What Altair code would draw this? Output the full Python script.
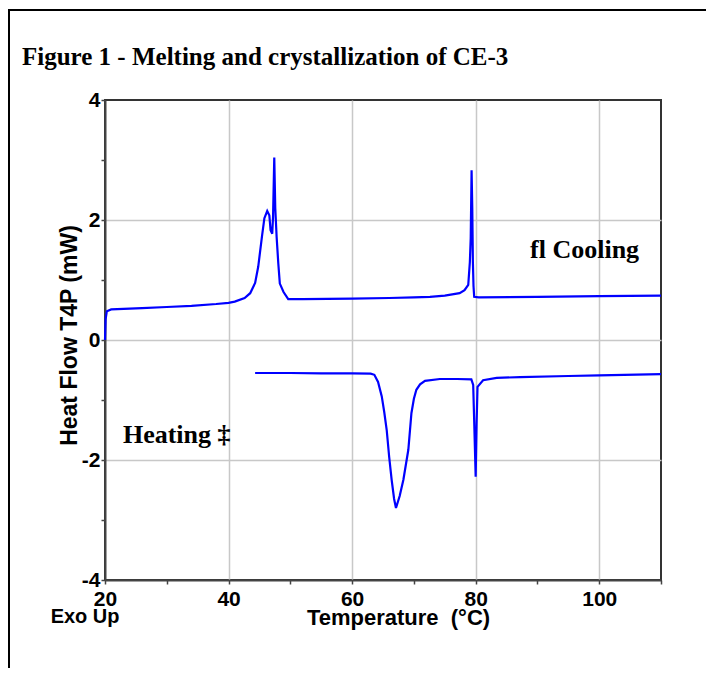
import altair as alt
import pandas as pd

# ---- data ----
cool_T = [20.0, 20.1, 20.3, 21.0, 23.0, 26.0, 30.0, 34.0, 38.0, 40.0, 41.0, 42.6, 43.5, 44.3,
          44.8, 45.4, 45.8, 46.26, 46.6, 46.8, 47.07, 47.2, 47.4, 47.56, 47.78, 48.05, 48.3,
          48.9, 49.66, 52.0, 60.0, 66.0, 70.0, 72.6, 75.0, 77.4, 78.2, 78.8, 79.06, 79.2,
          79.34, 79.45, 79.55, 79.65, 79.76, 80.5, 90.0, 100.0, 110.0]
cool_mW = [0.0, 0.35, 0.48, 0.51, 0.52, 0.53, 0.55, 0.57, 0.60, 0.62, 0.64, 0.70, 0.78, 0.95,
           1.22, 1.72, 2.03, 2.15, 2.08, 1.83, 1.77, 2.05, 3.04, 2.2, 1.72, 1.28, 0.94,
           0.80, 0.68, 0.68, 0.69, 0.70, 0.71, 0.72, 0.74, 0.78, 0.83, 0.92, 1.3, 1.7,
           2.83, 2.2, 1.3, 0.9, 0.72, 0.71, 0.72, 0.73, 0.74]

heat_T = [44.3, 50.0, 55.0, 60.0, 63.0, 63.6, 64.2, 64.8, 65.2, 65.6, 66.0, 66.4, 66.8, 67.1,
          67.7, 68.3, 69.1, 69.6, 70.0, 70.4, 71.0, 71.8, 74.2, 77.0, 79.3, 79.6, 79.8, 80.0,
          80.15, 80.3, 81.2, 83.4, 87.2, 95.0, 100.0, 110.0]
heat_mW = [-0.55, -0.55, -0.555, -0.555, -0.56, -0.58, -0.7, -0.94, -1.2, -1.5, -1.95, -2.33,
           -2.65, -2.8, -2.6, -2.33, -1.83, -1.22, -0.98, -0.83, -0.74, -0.68, -0.65, -0.65,
           -0.655, -0.75, -1.5, -2.28, -1.4, -0.78, -0.67, -0.63, -0.62, -0.6, -0.59, -0.57]

x_ticks = [20, 30, 40, 50, 60, 70, 80, 90, 100, 110]
y_ticks = [-4, -3, -2, -1, 0, 1, 2, 3, 4]

serif_notes = ["fl Cooling", "Heating ‡"]
serif_T = [88.8, 22.9]
serif_mW = [1.37, -1.72]
sans_notes = ["Exo Up"]
sans_T = [11.2]
sans_mW = [-4.71]

title_text = "Figure 1 - Melting and crystallization of CE-3"

# ---- tables ----
curves = pd.concat([
    pd.DataFrame({"T": cool_T, "mW": cool_mW, "series": "Cooling", "i": range(len(cool_T))}),
    pd.DataFrame({"T": heat_T, "mW": heat_mW, "series": "Heating", "i": range(len(heat_T))}),
], ignore_index=True)
serif_df = pd.DataFrame({"T": serif_T, "mW": serif_mW, "label": serif_notes})
sans_df = pd.DataFrame({"T": sans_T, "mW": sans_mW, "label": sans_notes})

xs = alt.Scale(domain=[20, 110], nice=False, zero=False)
ys = alt.Scale(domain=[-4, 4], nice=False, zero=False)

common_axis = dict(
    tickSize=4, tickColor="#444", tickWidth=1.5,
    domainColor="#444", domainWidth=2,
    gridColor="#c8c8c8", gridWidth=1.5,
    labelFont="Liberation Sans", labelFontWeight="bold", labelColor="black",
    labelOverlap=False, labelFlush=False,
    titleFont="Liberation Sans", titleFontWeight="bold", titleColor="black",
)

x_axis = alt.Axis(
    values=x_ticks,
    labelExpr="(datum.value % 20 == 0 && datum.value <= 100) ? '' + datum.value : ''",
    gridOpacity={"condition": {"test": "datum.value % 20 == 0 && datum.value > 20 && datum.value < 110", "value": 1}, "value": 0},
    labelFontSize=21, labelPadding=4,
    title="Temperature \u00a0(°C)", titleFontSize=22,
    titleX=293, titleY=44, titleAlign="center", titleBaseline="alphabetic",
    **common_axis,
)
y_axis = alt.Axis(
    values=y_ticks,
    labelExpr="datum.value % 2 == 0 ? '' + datum.value : ''",
    gridOpacity={"condition": {"test": "datum.value % 2 == 0 && abs(datum.value) < 4", "value": 1}, "value": 0},
    labelFontSize=21, labelPadding=1,
    title="Heat Flow T4P (mW)", titleFontSize=23,
    titleX=-29, titleY=235, titleAngle=270, titleAlign="center", titleBaseline="alphabetic",
    **common_axis,
)

lines = alt.Chart(curves).mark_line(color="#0000FF", strokeWidth=2.2).encode(
    x=alt.X("T:Q", scale=xs, axis=x_axis),
    y=alt.Y("mW:Q", scale=ys, axis=y_axis),
    detail="series:N",
    order="i:Q",
)

serif_text = alt.Chart(serif_df).mark_text(
    font="Liberation Serif", fontWeight="bold", fontSize=26, color="black",
    align="left", baseline="alphabetic",
).encode(x=alt.X("T:Q", scale=xs), y=alt.Y("mW:Q", scale=ys), text="label:N")

sans_text = alt.Chart(sans_df).mark_text(
    font="Liberation Sans", fontWeight="bold", fontSize=20, color="black",
    align="left", baseline="alphabetic",
).encode(x=alt.X("T:Q", scale=xs), y=alt.Y("mW:Q", scale=ys), text="label:N")

title_mark = alt.Chart(pd.DataFrame({"label": [title_text]})).mark_text(
    font="Liberation Serif", fontWeight="bold", fontSize=25, color="black",
    align="left", baseline="alphabetic",
).encode(x=alt.value(-83), y=alt.value(-35), text="label:N")

border = alt.Chart(pd.DataFrame({"a": [0]})).mark_rect(
    filled=False, stroke="black", strokeWidth=2,
).encode(x=alt.value(-96), x2=alt.value(900), y=alt.value(-90), y2=alt.value(900))

chart = alt.layer(border, lines, serif_text, sans_text, title_mark).properties(
    width=556, height=480,
    autosize=alt.AutoSizeParams(type="none"),
    padding={"left": 97, "top": 92, "right": 45, "bottom": 88},
    background="white",
).configure_view(stroke="#333", strokeWidth=2)

chart.save("out.html", embed_options={"renderer": "svg", "actions": False})
